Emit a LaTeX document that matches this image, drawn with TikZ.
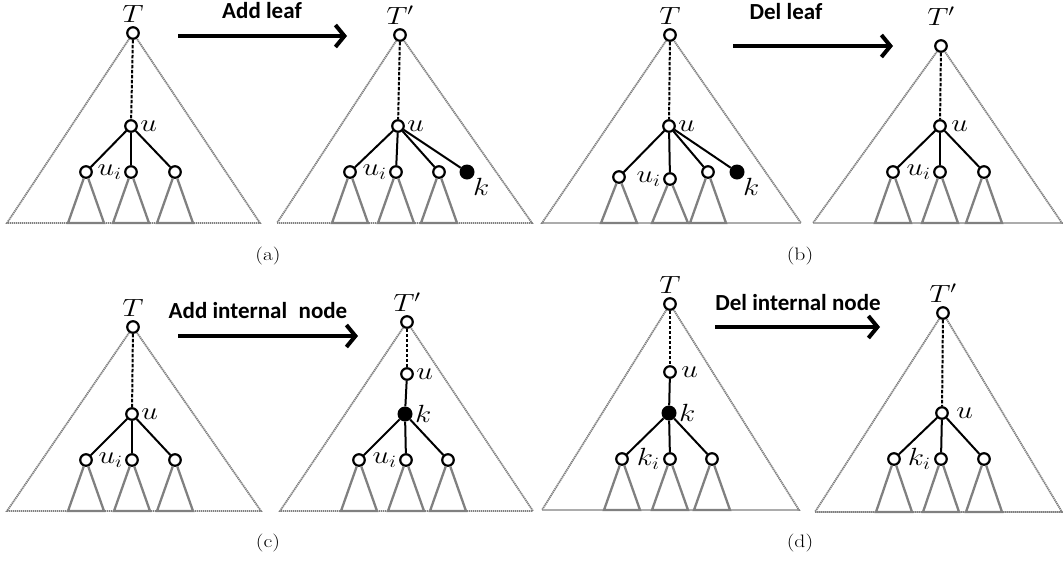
\documentclass[tikz,border=0pt]{standalone}
\usepackage{fontspec}
\newfontfamily\opfont{Carlito}
\usetikzlibrary{positioning,arrows.meta}
\tikzset{
  vtx/.style={circle,draw,line width=2.2pt,fill=white,inner sep=0pt,minimum size=11.5pt},
  newvtx/.style={circle,fill,inner sep=0pt,minimum size=15pt},
  link/.style={line width=2pt},
  dashlink/.style={line width=2pt,dash pattern=on 3.5pt off 1.5pt},
  hull/.style={gray,line width=1.8pt,dash pattern=on 1.3pt off 0.7pt},
  subtree/.style={gray,line width=2.3pt},
  move/.style={line width=4pt,-{Straight Barb[length=9pt,width=22pt]}},
  opname/.style={font=\opfont\bfseries\fontsize{23}{25}\selectfont},
  subcap/.style={font=\fontsize{18}{20}\selectfont,xscale=1.2},
  lbl/.style={font=\fontsize{25}{27}\selectfont,inner sep=1pt,xscale=1.2}
}
\begin{document}
\begin{tikzpicture}[x=1pt,y=-1pt]
\useasboundingbox (0,0) rectangle (1063,560);
% (a) add leaf: T
\node[vtx] (A1r) at (133,33) {};
\node[vtx] (A1u) at (131,126) {};
\node[lbl,above=2pt of A1r] (A1T) {$T$};
\node[lbl,right=1pt of A1u] (A1ul) {$u$};
\draw[hull] (A1r) -- (7,223) -- (260,223) -- (A1r);
\draw[dashlink] (A1r) -- (A1u);
\foreach \n/\x in {1/86,2/131,3/175}{
  \node[vtx] (A1c\n) at (\x,172) {};
  \draw[link] (A1u) -- (A1c\n);
  \draw[subtree] (A1c\n) -- (\x-18,223) -- (\x+18,223) -- (A1c\n);
}
\node[lbl,left=1pt of A1c2] (A1ui) {$u_i$};
% (a) add leaf: T'
\node[vtx] (A2r) at (400,35) {};
\node[vtx] (A2u) at (398,126) {};
\node[lbl,above=2pt of A2r] (A2T) {$T'$};
\node[lbl,right=1pt of A2u] (A2ul) {$u$};
\draw[hull] (A2r) -- (277,223) -- (532,223) -- (A2r);
\draw[dashlink] (A2r) -- (A2u);
\foreach \n/\x in {1/350,2/396,3/439}{
  \node[vtx] (A2c\n) at (\x,172) {};
  \draw[link] (A2u) -- (A2c\n);
  \draw[subtree] (A2c\n) -- (\x-18,223) -- (\x+18,223) -- (A2c\n);
}
\node[newvtx] (A2k) at (467,172) {};
\draw[link] (A2u) -- (A2k);
\node[lbl,left=1pt of A2c2] (A2ui) {$u_i$};
\node[lbl,below right=-1pt of A2k] (A2kl) {$k$};
% arrow (a)
\coordinate (Aa) at (178,36);
\coordinate (Ab) at (347,36);
\draw[move] (Aa) -- (Ab);
\node[opname] (Aop) at (262,11) {Add leaf};
\node[subcap] (Acap) at (268,256) {(a)};
% (b) del leaf: T
\node[vtx] (B1r) at (670,35) {};
\node[vtx] (B1u) at (669,126) {};
\node[lbl,above=2pt of B1r] (B1T) {$T$};
\node[lbl,right=1pt of B1u] (B1ul) {$u$};
\draw[hull] (B1r) -- (542,223) -- (801,223) -- (B1r);
\draw[dashlink] (B1r) -- (B1u);
\foreach \n/\x/\y in {1/619/177,2/670/179,3/708/172}{
  \node[vtx] (B1c\n) at (\x,\y) {};
  \draw[link] (B1u) -- (B1c\n);
  \draw[subtree] (B1c\n) -- (\x-18,223) -- (\x+18,223) -- (B1c\n);
}
\node[newvtx] (B1k) at (737,172) {};
\draw[link] (B1u) -- (B1k);
\node[lbl,left=1pt of B1c2] (B1ui) {$u_i$};
\node[lbl,below right=-1pt of B1k] (B1kl) {$k$};
% (b) del leaf: T'
\node[vtx] (B2r) at (941,46) {};
\node[vtx] (B2u) at (940,126) {};
\node[lbl,above=12pt of B2r] (B2T) {$T'$};
\node[lbl,right=3pt of B2u] (B2ul) {$u$};
\draw[hull] (B2r) -- (813,223) -- (1062,223) -- (B2r);
\draw[dashlink] (B2r) -- (B2u);
\foreach \n/\x in {1/893,2/940,3/984}{
  \node[vtx] (B2c\n) at (\x,172) {};
  \draw[link] (B2u) -- (B2c\n);
  \draw[subtree] (B2c\n) -- (\x-18,223) -- (\x+18,223) -- (B2c\n);
}
\node[lbl,left=1pt of B2c2] (B2ui) {$u_i$};
% arrow (b)
\coordinate (Ba) at (733,46);
\coordinate (Bb) at (893,46);
\draw[move] (Ba) -- (Bb);
\node[opname] (Bop) at (786,12) {Del leaf};
\node[subcap] (Bcap) at (800,256) {(b)};
% (c) add internal node: T
\node[vtx] (C1r) at (133,327) {};
\node[vtx] (C1u) at (132,414) {};
\node[lbl,above=2pt of C1r] (C1T) {$T$};
\node[lbl,right=1pt of C1u] (C1ul) {$u$};
\draw[hull] (C1r) -- (7,511) -- (261,511) -- (C1r);
\draw[dashlink] (C1r) -- (C1u);
\foreach \n/\x in {1/86,2/132,3/175}{
  \node[vtx] (C1c\n) at (\x,460) {};
  \draw[link] (C1u) -- (C1c\n);
  \draw[subtree] (C1c\n) -- (\x-18,511) -- (\x+18,511) -- (C1c\n);
}
\node[lbl,left=1pt of C1c2] (C1ui) {$u_i$};
% (c) add internal node: T'
\node[vtx] (C2r) at (407,322) {};
\node[vtx] (C2u) at (407,374) {};
\node[newvtx] (C2k) at (405,414) {};
\node[lbl,above=2pt of C2r] (C2T) {$T'$};
\node[lbl,right=1pt of C2u] (C2ul) {$u$};
\node[lbl,right=1pt of C2k] (C2kl) {$k$};
\draw[hull] (C2r) -- (280,511) -- (533,511) -- (C2r);
\draw[dashlink] (C2r) -- (C2u);
\draw[link] (C2u) -- (C2k);
\foreach \n/\x in {1/359,2/406,3/448}{
  \node[vtx] (C2c\n) at (\x,460) {};
  \draw[link] (C2k) -- (C2c\n);
  \draw[subtree] (C2c\n) -- (\x-18,511) -- (\x+18,511) -- (C2c\n);
}
\node[lbl,left=1pt of C2c2] (C2ui) {$u_i$};
% arrow (c)
\coordinate (Ca) at (178,336);
\coordinate (Cb) at (358,336);
\draw[move] (Ca) -- (Cb);
\node[opname] (Cop) at (258,311) {Add internal\hspace{0.5em}node};
\node[subcap] (Ccap) at (268,543) {(c)};
% (d) del internal node: T
\node[vtx] (D1r) at (670,304) {};
\node[vtx] (D1u) at (670,372) {};
\node[newvtx] (D1k) at (669,413) {};
\node[lbl,above=2pt of D1r] (D1T) {$T$};
\node[lbl,right=3pt of D1u] (D1ul) {$u$};
\node[lbl,right=1pt of D1k] (D1kl) {$k$};
\draw[hull] (D1r) -- (542,510) -- (799,510) -- (D1r);
\draw[dashlink] (D1r) -- (D1u);
\draw[link] (D1u) -- (D1k);
\foreach \n/\x in {1/622,2/670,3/712}{
  \node[vtx] (D1c\n) at (\x,459) {};
  \draw[link] (D1k) -- (D1c\n);
  \draw[subtree] (D1c\n) -- (\x-18,510) -- (\x+18,510) -- (D1c\n);
}
\node[lbl,left=2pt of D1c2] (D1ki) {$k_i$};
% (d) del internal node: T'
\node[vtx] (D2r) at (943,313) {};
\node[vtx] (D2u) at (942,413) {};
\node[lbl,above=2pt of D2r] (D2T) {$T'$};
\node[lbl,right=6pt of D2u] (D2ul) {$u$};
\draw[hull] (D2r) -- (815,512) -- (1062,512) -- (D2r);
\draw[dashlink] (D2r) -- (D2u);
\foreach \n/\x in {1/894,2/941,3/984}{
  \node[vtx] (D2c\n) at (\x,459) {};
  \draw[link] (D2u) -- (D2c\n);
  \draw[subtree] (D2c\n) -- (\x-18,512) -- (\x+18,512) -- (D2c\n);
}
\node[lbl,left=2pt of D2c2] (D2ki) {$k_i$};
% arrow (d)
\coordinate (Da) at (715,327);
\coordinate (Db) at (880,327);
\draw[move] (Da) -- (Db);
\node[opname] (Dop) at (798,303) {Del internal node};
\node[subcap] (Dcap) at (800,543) {(d)};
\end{tikzpicture}
\end{document}
